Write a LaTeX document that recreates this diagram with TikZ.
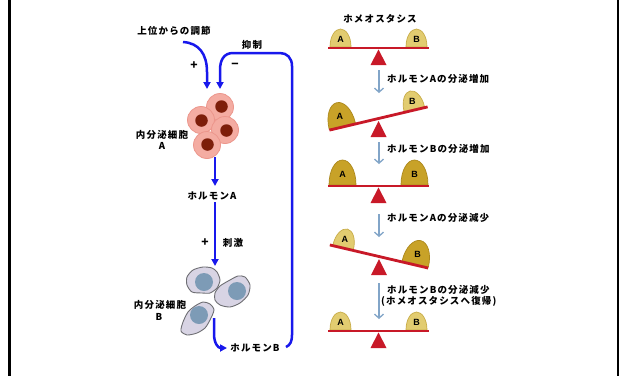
\documentclass[tikz,border=0pt]{standalone}
\usepackage{fontspec}
\usetikzlibrary{arrows.meta}
\newfontfamily\jp{Noto Sans CJK JP}[LetterSpace=12]
\newfontfamily\latinb{Liberation Sans}

\definecolor{flowblue}{RGB}{24,24,236}
\definecolor{stepblue}{RGB}{130,165,200}
\definecolor{pinkcell}{RGB}{244,172,162}
\definecolor{pinkedge}{RGB}{236,150,140}
\definecolor{nucA}{RGB}{125,30,10}
\definecolor{cellBfill}{RGB}{216,212,228}
\definecolor{cellBedge}{RGB}{110,110,115}
\definecolor{nucB}{RGB}{125,155,182}
\definecolor{domepalefill}{RGB}{226,204,112}
\definecolor{domepaleedge}{RGB}{200,172,72}
\definecolor{domedarkfill}{RGB}{200,162,40}
\definecolor{domedarkedge}{RGB}{172,136,28}
\definecolor{beamred}{RGB}{200,25,40}

% bell-shaped weight sitting on a beam: x offset, width, height, style, letter, name
\newcommand\weight[6]{%
  \path[#4] (#1-#2/2,-1) .. controls (#1-#2/2,-0.62*#3) and (#1-0.26*#2,-#3) .. (#1,-#3)
     .. controls (#1+0.26*#2,-#3) and (#1+#2/2,-0.62*#3) .. (#1+#2/2,-1) -- cycle;
  \node[weightlbl] (#6) at (#1,-0.45*#3) {#5};}

% endocrine cell A: name, x, y, nucleus dx, dy
\newcommand\cellA[5]{%
  \node[cellApink] (#1) at (#2,#3) {};
  \node[nucleusA] (#1n) at (#2+#4,#3+#5) {};}

\begin{document}
\begin{tikzpicture}[x=1pt,y=-1pt,
  lbl/.style={font=\jp\bfseries\fontsize{9.5}{11}\selectfont, inner sep=0pt},
  sign/.style={font=\jp\bfseries\fontsize{12}{13}\selectfont, inner sep=0pt},
  weightlbl/.style={font=\latinb\bfseries\fontsize{9}{10}\selectfont, inner sep=0pt},
  flow/.style={draw=flowblue, line width=2.5pt, -{Triangle[length=7pt,width=7pt]}},
  steparrow/.style={draw=stepblue, line width=1.3pt, -{Straight Barb[length=4pt,width=9pt]}},
  beam/.style={draw=beamred, line width=2.8pt},
  fulcrum/.style={fill=beamred},
  domepale/.style={fill=domepalefill, draw=domepaleedge, line width=0.7pt},
  domedark/.style={fill=domedarkfill, draw=domedarkedge, line width=0.7pt},
  cellApink/.style={circle, fill=pinkcell, draw=pinkedge, line width=0.8pt, minimum size=27pt, inner sep=0pt},
  nucleusA/.style={circle, fill=nucA, minimum size=12.5pt, inner sep=0pt},
  cellB/.style={fill=cellBfill, draw=cellBedge, line width=0.9pt},
  nucleusB/.style={circle, fill=nucB, minimum size=18pt, inner sep=0pt},
  frameline/.style={draw=black, line width=2.7pt}]

\useasboundingbox (0,0) rectangle (619,376);
\fill[white] (0,0) rectangle (619,376);

% side frame lines
\coordinate (fl0) at (9.7,0);   \coordinate (fl1) at (9.7,376);
\coordinate (fr0) at (618,0);   \coordinate (fr1) at (618,376);
\draw[frameline] (fl0) -- (fl1);
\draw[frameline] (fr0) -- (fr1);

% ---------- left: feedback loop ----------
\node[lbl] (upper) at (174,31) {上位からの調節};
\node[lbl] (inhib) at (252,45) {抑制};
\node[sign] (plusA) at (194,66) {+};
\node[sign] (minusA) at (235,66) {−};

% endocrine cells A
\cellA{cA1}{220}{107}{1.5}{-0.5}
\cellA{cA2}{201}{120}{0.5}{0.5}
\cellA{cA3}{225}{130}{1.5}{0.5}
\cellA{cA4}{207}{145}{0.5}{-0.5}
\node[lbl] (cAlbl) at (162,135) {内分泌細胞};
\node[lbl] (cAlet) at (162,146) {A};

\node[lbl] (hA) at (212,196) {ホルモンA};
\node[sign] (plusB) at (205,243) {+};
\node[lbl] (stim) at (233,243) {刺激};

% endocrine cells B
\path[cellB] plot[smooth cycle, tension=0.45] coordinates {(215,293) (220,286) (230,280) (238,276) (245,277) (250,285) (248,295) (240,303) (230,307) (220,305) (215,300)};
\node[nucleusB] (nB2) at (237,291) {};
\path[cellB] plot[smooth cycle, tension=0.45] coordinates {(187,277) (193,270) (203,267) (212,268) (217,272) (220,280) (217,288) (210,293) (202,293) (192,292) (187,285)};
\node[nucleusB] (nB1) at (204,282) {};
\path[cellB] plot[smooth cycle, tension=0.45] coordinates {(195,306) (203,302) (210,304) (214,310) (210,320) (205,328) (197,333) (187,335) (181,331) (183,322) (188,312)};
\node[nucleusB] (nB3) at (199,315) {};
\node[lbl] (cBlbl) at (160,305) {内分泌細胞};
\node[lbl] (cBlet) at (159,317) {B};

\node[lbl] (hB) at (255,348) {ホルモンB};

% connector end points
\coordinate (inStart) at (183,42);
\coordinate (inEnd) at (207,89);
\coordinate (fbStart) at (286,347);
\coordinate (fbEnd) at (220,89);
\coordinate (aOut) at (215,157);
\coordinate (aTip) at (215,186);
\coordinate (hAout) at (215,202);
\coordinate (bTip) at (215,266);
\coordinate (bOut) at (214,318);
\coordinate (hBtip) at (227,348);

\draw[flow] (inStart) .. controls (199,43) and (207,54) .. (207,72) -- (inEnd);
\draw[flow] (fbStart) .. controls (290.5,345) and (292,341) .. (292,335) -- (292,66)
   .. controls (292,58) and (287,53) .. (280,53) -- (233,53)
   .. controls (224,53) and (220,60) .. (220,70) -- (fbEnd);
\draw[flow] (aOut) -- (aTip);
\draw[flow] (hAout) -- (bTip);
\draw[flow] (bOut) -- (214,334) .. controls (214,343) and (218,348) .. (hBtip);

% ---------- right: seesaws ----------
\node[lbl] (homeo) at (380,19) {ホメオスタシス};

% balanced
\begin{scope}[shift={(378.5,48)}]
  \weight{-38}{21}{19}{domepale}{A}{w1a}
  \weight{38}{21}{19}{domepale}{B}{w1b}
  \draw[beam] (-50.5,0) -- (50.5,0);
\end{scope}
\fill[fulcrum] (378.5,49.5) -- (370.5,65) -- (386.5,65) -- cycle;

\coordinate (s1) at (379,70); \coordinate (e1) at (379,93);
\draw[steparrow] (s1) -- (e1);
\node[lbl, anchor=west] (t1) at (387,79) {ホルモンAの分泌増加};

% A heavy
\begin{scope}[shift={(378.5,118.5)}, rotate=13.3]
  \weight{-37}{27}{25}{domedark}{A}{w2a}
  \weight{37}{21}{19.5}{domepale}{B}{w2b}
  \draw[beam] (-50.5,0) -- (50.5,0);
\end{scope}
\fill[fulcrum] (378.5,121) -- (370.5,137) -- (386.5,137) -- cycle;

\coordinate (s2) at (379,142); \coordinate (e2) at (379,164);
\draw[steparrow] (s2) -- (e2);
\node[lbl, anchor=west] (t2) at (387,149) {ホルモンBの分泌増加};

% both heavy, balanced
\begin{scope}[shift={(378.5,186)}]
  \weight{-36}{27}{26}{domedark}{A}{w3a}
  \weight{36}{27}{26}{domedark}{B}{w3b}
  \draw[beam] (-50.5,0) -- (50.5,0);
\end{scope}
\fill[fulcrum] (378.5,187.5) -- (370.5,203) -- (386.5,203) -- cycle;

\coordinate (s3) at (379,214); \coordinate (e3) at (379,237);
\draw[steparrow] (s3) -- (e3);
\node[lbl, anchor=west] (t3) at (387,218) {ホルモンAの分泌減少};

% B heavy
\begin{scope}[shift={(379,256.5)}, rotate=-13.2]
  \weight{-37}{21}{19.5}{domepale}{A}{w4a}
  \weight{37}{27}{25}{domedark}{B}{w4b}
  \draw[beam] (-50.5,0) -- (50.5,0);
\end{scope}
\fill[fulcrum] (379,259) -- (371,275) -- (387,275) -- cycle;

\coordinate (s4) at (379,283); \coordinate (e4) at (379,319);
\draw[steparrow] (s4) -- (e4);
\node[lbl, anchor=west] (t4) at (387,290) {ホルモンBの分泌減少};
\node[lbl, anchor=west] (t5) at (381,301) {(ホメオスタシスへ復帰)};

% back to balance
\begin{scope}[shift={(378.5,331)}]
  \weight{-38}{21}{19}{domepale}{A}{w5a}
  \weight{38}{21}{19}{domepale}{B}{w5b}
  \draw[beam] (-50.5,0) -- (50.5,0);
\end{scope}
\fill[fulcrum] (378.5,332.5) -- (370.5,348) -- (386.5,348) -- cycle;

\end{tikzpicture}
\end{document}
